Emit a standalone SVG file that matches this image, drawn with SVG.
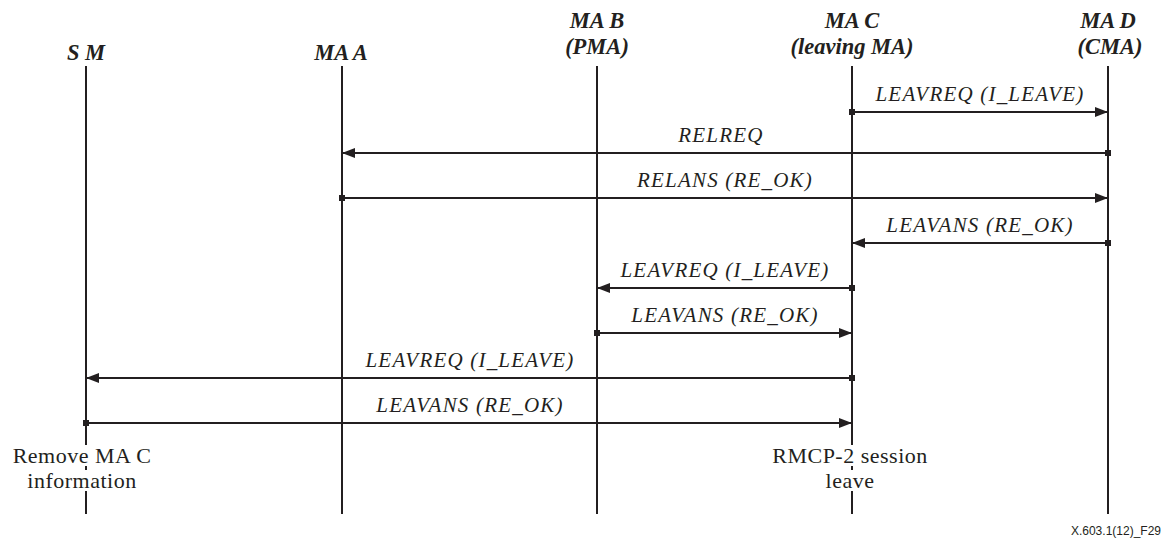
<svg xmlns="http://www.w3.org/2000/svg" width="1164" height="539" viewBox="0 0 1164 539">
<style>
.hdr{font-family:"Liberation Serif",serif;font-size:22.5px;font-weight:bold;font-style:italic;fill:#231f20;text-anchor:middle}
.lbl{font-family:"Liberation Serif",serif;font-size:21px;font-style:italic;letter-spacing:1.2px;fill:#231f20;text-anchor:middle}
.note{font-family:"Liberation Serif",serif;font-size:22px;letter-spacing:0.5px;fill:#231f20;text-anchor:middle}
.life{stroke:#231f20;stroke-width:2}
.msg{stroke:#231f20;stroke-width:2;fill:none;marker-end:url(#ah)}
.dot{fill:#231f20}
.foot{font-family:"Liberation Sans",sans-serif;font-size:12px;fill:#231f20;text-anchor:end}
</style>
<defs>
<marker id="ah" markerWidth="13" markerHeight="10" refX="13" refY="5" orient="auto" markerUnits="userSpaceOnUse">
<path d="M0,0 L13,5 L0,10 Z" fill="#231f20"/>
</marker>
</defs>
<rect width="1164" height="539" fill="#fff"/>
<g id="sm">
<text class="hdr" x="86" y="60">S M</text>
<line class="life" x1="86" y1="66" x2="86" y2="514"/>
</g>
<g id="maa">
<text class="hdr" x="341" y="60">MA A</text>
<line class="life" x1="342" y1="66" x2="342" y2="514"/>
</g>
<g id="mab">
<text class="hdr" x="597" y="28">MA B</text>
<text class="hdr" x="597" y="54">(PMA)</text>
<line class="life" x1="597" y1="66" x2="597" y2="514"/>
</g>
<g id="mac">
<text class="hdr" x="852" y="28">MA C</text>
<text class="hdr" x="852" y="54">(leaving MA)</text>
<line class="life" x1="852" y1="66" x2="852" y2="514"/>
</g>
<g id="mad">
<text class="hdr" x="1108" y="28">MA D</text>
<text class="hdr" x="1110" y="54">(CMA)</text>
<line class="life" x1="1108" y1="66" x2="1108" y2="514"/>
</g>
<g id="connectors">
<line class="msg" x1="852" y1="112" x2="1108" y2="112"/>
<rect class="dot" x="849" y="109" width="6" height="6"/>
<text class="lbl" x="980" y="101">LEAVREQ (I_LEAVE)</text>

<line class="msg" x1="1108" y1="153" x2="342" y2="153"/>
<rect class="dot" x="1105" y="150" width="6" height="6"/>
<text class="lbl" x="721" y="142">RELREQ</text>

<line class="msg" x1="342" y1="198" x2="1108" y2="198"/>
<rect class="dot" x="339" y="195" width="6" height="6"/>
<text class="lbl" x="725" y="187">RELANS (RE_OK)</text>

<line class="msg" x1="1108" y1="243" x2="852" y2="243"/>
<rect class="dot" x="1105" y="240" width="6" height="6"/>
<text class="lbl" x="980" y="232">LEAVANS (RE_OK)</text>

<line class="msg" x1="852" y1="288" x2="597" y2="288"/>
<rect class="dot" x="849" y="285" width="6" height="6"/>
<text class="lbl" x="725" y="277">LEAVREQ (I_LEAVE)</text>

<line class="msg" x1="597" y1="333" x2="852" y2="333"/>
<rect class="dot" x="594" y="330" width="6" height="6"/>
<text class="lbl" x="725" y="322">LEAVANS (RE_OK)</text>

<line class="msg" x1="852" y1="378" x2="86" y2="378"/>
<rect class="dot" x="849" y="375" width="6" height="6"/>
<text class="lbl" x="470" y="367">LEAVREQ (I_LEAVE)</text>

<line class="msg" x1="86" y1="423" x2="852" y2="423"/>
<rect class="dot" x="83" y="420" width="6" height="6"/>
<text class="lbl" x="470" y="412">LEAVANS (RE_OK)</text>
</g>
<g id="note-sm">
<rect x="8" y="445" width="150" height="21" fill="#fff"/>
<rect x="22" y="470" width="120" height="21" fill="#fff"/>
<text class="note" x="82" y="463">Remove MA C</text>
<text class="note" x="82" y="488">information</text>
</g>
<g id="note-mac">
<rect x="766" y="445" width="168" height="21" fill="#fff"/>
<rect x="822" y="470" width="56" height="21" fill="#fff"/>
<text class="note" x="850" y="463">RMCP-2 session</text>
<text class="note" x="850" y="488">leave</text>
</g>
<text class="foot" x="1161" y="535">X.603.1(12)_F29</text>
</svg>
